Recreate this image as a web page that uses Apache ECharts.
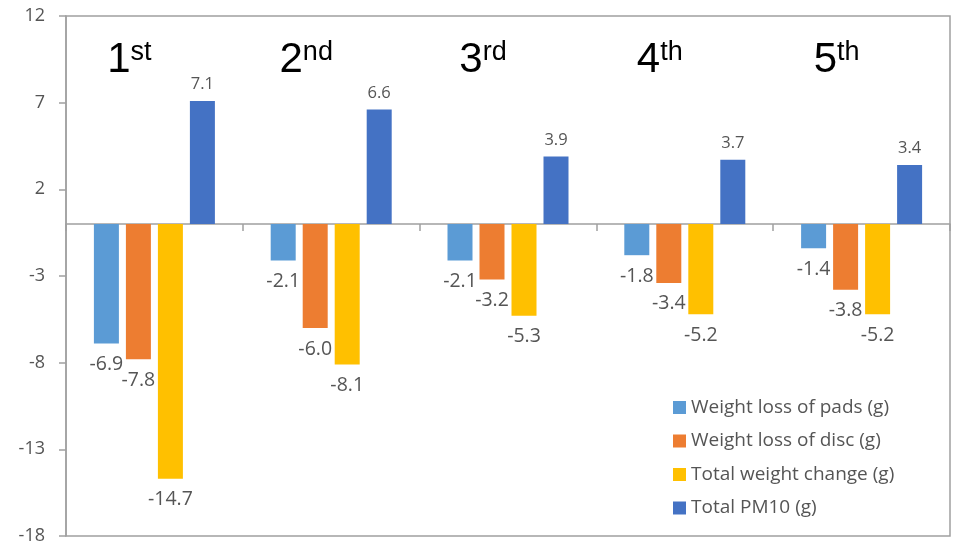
<!DOCTYPE html>
<html>
<head>
<meta charset="utf-8">
<script src="https://cdn.jsdelivr.net/npm/echarts@6/dist/echarts.min.js"></script>
<style>
  html, body { margin: 0; padding: 0; background: #ffffff; }
  #chart { width: 954px; height: 548px; }
</style>
</head>
<body>
<div id="chart"></div>
<script>
// Test rounds
const categories = ['1st', '2nd', '3rd', '4th', '5th'];

// Measured quantities per round (grams)
const padsLoss = [-6.9, -2.1, -2.1, -1.8, -1.4];
const discLoss = [-7.8, -6.0, -3.2, -3.4, -3.8];
const totalChange = [-14.7, -8.1, -5.3, -5.2, -5.2];
const totalPM10 = [7.1, 6.6, 3.9, 3.7, 3.4];

const seriesNames = [
  'Weight loss of pads (g)',
  'Weight loss of disc (g)',
  'Total weight change (g)',
  'Total PM10 (g)'
];

// Value axis ticks
const yMin = -18;
const yMax = 12;
const yStep = 5;

const colors = ['#5B9BD5', '#ED7D31', '#FFC000', '#4472C4'];
const gray = '#a0a0a0';
const textGray = '#555555';
const font = 'Open Sans';

const negLabel = {
  show: true,
  position: 'bottom',
  distance: 11,
  color: textGray,
  fontFamily: font,
  fontSize: 19.5,
  formatter: p => p.value.toFixed(1)
};
const posLabel = {
  show: true,
  position: 'top',
  distance: 8,
  color: textGray,
  fontFamily: font,
  fontSize: 16.5,
  formatter: p => p.value.toFixed(1)
};

function barSeries(name, data, color, label) {
  return {
    name: name,
    type: 'bar',
    data: data,
    barWidth: 25,
    barGap: '28%',
    itemStyle: { color: color },
    label: label
  };
}

const chart = echarts.init(document.getElementById('chart'), null, { renderer: 'canvas' });

chart.setOption({
  animation: false,
  backgroundColor: '#ffffff',
  color: colors,
  grid: {
    left: 66, right: 4, top: 16, bottom: 12,
    show: true,
    borderColor: gray,
    borderWidth: 1.5,
    backgroundColor: 'transparent'
  },
  legend: {
    orient: 'vertical',
    left: 668,
    top: 393,
    icon: 'rect',
    itemWidth: 13,
    itemHeight: 13,
    itemGap: 14.5,
    textStyle: { color: textGray, fontSize: 19, fontFamily: font },
    data: seriesNames
  },
  xAxis: [
    {
      type: 'category',
      data: categories,
      axisLine: { onZero: true, lineStyle: { color: gray, width: 1.5 } },
      axisTick: { show: true, length: 7, lineStyle: { color: gray, width: 1.5 } },
      axisLabel: { show: false },
      splitLine: { show: false }
    },
    {
      type: 'category',
      data: categories,
      position: 'top',
      axisLine: { show: false },
      axisTick: { show: false },
      axisLabel: {
        inside: true,
        margin: 23,
        interval: 0,
        padding: [0, 50, 0, 0],
        formatter: v => {
          const m = v.match(/^(\d+)(\D+)$/);
          return '{n|' + m[1] + '}{s|' + m[2] + '}';
        },
        rich: {
          n: { fontFamily: 'Liberation Sans', fontSize: 42, color: '#000000', lineHeight: 42 },
          s: { fontFamily: 'Liberation Sans', fontSize: 27, color: '#000000', verticalAlign: 'top', lineHeight: 27 }
        }
      }
    }
  ],
  yAxis: {
    type: 'value',
    min: yMin,
    max: yMax,
    interval: yStep,
    axisLine: { show: true, lineStyle: { color: gray, width: 1.5 } },
    axisTick: { show: true, length: 7, lineStyle: { color: gray, width: 1.5 } },
    axisLabel: { color: textGray, fontSize: 18, fontFamily: font, margin: 21 },
    splitLine: { show: false }
  },
  series: [
    barSeries(seriesNames[0], padsLoss, colors[0], negLabel),
    barSeries(seriesNames[1], discLoss, colors[1], negLabel),
    barSeries(seriesNames[2], totalChange, colors[2], negLabel),
    barSeries(seriesNames[3], totalPM10, colors[3], posLabel)
  ]
});
</script>
</body>
</html>
